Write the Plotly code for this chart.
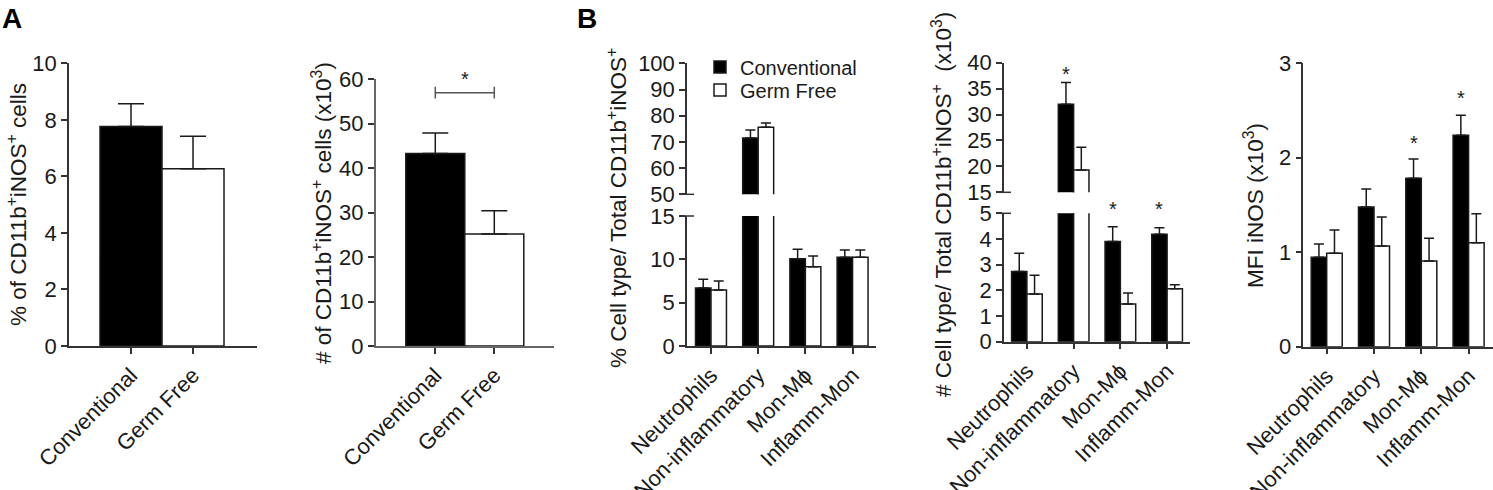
import plotly.graph_objects as go

# ---- data ----
groups = ["Conventional", "Germ Free"]
cell_types = ["Neutrophils", "Non-inflammatory", "Mon-Mϕ", "Inflamm-Mon"]

# A: % of CD11b+iNOS+ cells
pct_total = [7.76, 6.27]
pct_total_sem = [0.81, 1.15]
# A: # of CD11b+iNOS+ cells (x10^3)
num_total = [43.3, 25.2]
num_total_sem = [4.6, 5.2]
num_bracket_y = 57.0
num_star_y = 60.0

# B: % cell type / total CD11b+iNOS+
pct_conv = [6.69, 71.5, 10.08, 10.23]
pct_conv_sem = [1.0, 3.0, 1.07, 0.85]
pct_gf = [6.46, 75.6, 9.15, 10.23]
pct_gf_sem = [1.04, 1.6, 1.23, 0.85]

# B: # cell type / total CD11b+iNOS+ (x10^3)
cnt_conv = [2.73, 32.0, 3.9, 4.18]
cnt_conv_sem = [0.71, 4.2, 0.58, 0.26]
cnt_gf = [1.86, 19.3, 1.47, 2.06]
cnt_gf_sem = [0.73, 4.4, 0.43, 0.16]
# star heights: (value, axis) - sit just outside the broken-axis segments
cnt_stars = [None, (40.4, "yaxis6"), (5.17, "yaxis5"), (5.17, "yaxis5")]

# B: MFI iNOS (x10^3)
mfi_conv = [0.947, 1.479, 1.783, 2.238]
mfi_conv_sem = [0.14, 0.19, 0.204, 0.212]
mfi_gf = [0.989, 1.066, 0.907, 1.101]
mfi_gf_sem = [0.247, 0.307, 0.241, 0.307]
mfi_stars = [None, None, 2.16, 2.63]

W, H = 1493, 490
FONT = "Liberation Sans, Arial, sans-serif"
INK = "#1a1a1a"
AX = "#333333"
BW = 0.328  # bar width in category units for grouped panels
TICK = 22


def px_x(p):
    return p / W


def px_y(p):
    return 1 - p / H


def err(sems, width):
    return dict(type="data", symmetric=False, array=sems, arrayminus=[0] * len(sems),
                color=INK, thickness=1.5, width=width)


def bar(x, y, sem, color, xa, ya, name=None, offset=None, width=1.0, cap=5, legend=None):
    return go.Bar(x=x, y=y, marker=dict(color=color, line=dict(color=INK, width=1.5)),
                  error_y=err(sem, cap), xaxis=xa, yaxis=ya, width=width,
                  offset=offset, name=name, showlegend=legend is not None,
                  legend=legend or "legend", hoverinfo="skip")


fig = go.Figure()
idx2 = list(range(2))
idx4 = list(range(4))

# A1
fig.add_trace(bar(idx2, pct_total, pct_total_sem, ["black", "white"], "x", "y", offset=-0.5, cap=13))
# A2
fig.add_trace(bar(idx2, num_total, num_total_sem, ["black", "white"], "x2", "y2", offset=-0.5, cap=13))

# B panels: (lower, upper) axis pairs; the upper half repeats the bars for the broken axis
for conv, csem, gf, gsem, axes in [
    (pct_conv, pct_conv_sem, pct_gf, pct_gf_sem, [("x3", "y3"), ("x4", "y4")]),
    (cnt_conv, cnt_conv_sem, cnt_gf, cnt_gf_sem, [("x5", "y5"), ("x6", "y6")]),
    (mfi_conv, mfi_conv_sem, mfi_gf, mfi_gf_sem, [("x7", "y7")]),
]:
    for xa, ya in axes:
        first = xa == "x3"
        fig.add_trace(bar(idx4, conv, csem, "black", xa, ya, name=groups[0],
                          offset=-BW, width=BW, legend="legend" if first else None))
        fig.add_trace(bar(idx4, gf, gsem, "white", xa, ya, name=groups[1],
                          offset=0, width=BW, legend="legend2" if first else None))

axis_common = dict(showgrid=False, zeroline=False, showline=True, linecolor=AX, linewidth=1.5,
                   ticks="outside", ticklen=6, tickwidth=1.5, tickcolor=AX, automargin=False,
                   tickfont=dict(family=FONT, size=TICK, color=INK))

# x domains (px) and ranges
xdefs = {
    "xaxis": ((69, 257), (-1.0, 2.032), groups),
    "xaxis2": ((375.7, 554.3), (-1.01, 2.017), groups),
    "xaxis3": ((687, 875.7), (-0.508, 3.49), cell_types),
    "xaxis4": ((687, 875.7), (-0.508, 3.49), None),
    "xaxis5": ((1004, 1190), (-0.49, 3.49), cell_types),
    "xaxis6": ((1004, 1190), (-0.49, 3.49), None),
    "xaxis7": ((1303.3, 1493), (-0.495, 3.516), cell_types),
}
ydefs = {
    "yaxis": ((346, 63.3), (0, 10), 2),
    "yaxis2": ((346, 79.3), (0, 60), 10),
    "yaxis3": ((346, 216), (0, 15), 5),
    "yaxis4": ((194.3, 63.3), (50, 100), 10),
    "yaxis5": ((341.7, 213.3), (0, 5), 1),
    "yaxis6": ((192.3, 62.7), (15, 40), 5),
    "yaxis7": ((346.7, 63.3), (0, 3), 1),
}


def y_to_paper(axis_key, val):
    # map a value on one of the y axes to paper coords (annotations outside the
    # axis range would otherwise be hidden by plotly)
    (b, t), (r0, r1), _ = ydefs[axis_key]
    return px_y(b) + (val - r0) / (r1 - r0) * (px_y(t) - px_y(b))


layout_axes = {}
for i, (k, (dom, rng, labels)) in enumerate(xdefs.items()):
    n = "" if i == 0 else str(i + 1)
    if labels is None:
        layout_axes[k] = dict(domain=[px_x(dom[0]), px_x(dom[1])], range=list(rng),
                              visible=False, automargin=False, anchor="y" + n)
    else:
        layout_axes[k] = dict(axis_common, domain=[px_x(dom[0]), px_x(dom[1])], range=list(rng),
                              tickvals=list(range(len(labels))), ticktext=labels,
                              tickangle=-45, anchor="y" + n)
for i, (k, (dom, rng, dt)) in enumerate(ydefs.items()):
    n = "" if i == 0 else str(i + 1)
    layout_axes[k] = dict(axis_common, domain=[px_y(dom[0]), px_y(dom[1])], range=list(rng),
                          dtick=dt, tick0=rng[0], anchor="x" + n)
layout_axes["xaxis2"]["linecolor"] = "#666666"
layout_axes["yaxis2"]["linecolor"] = "#666666"

# break markers on the broken y axes
shapes = []
for ax_px, y_px in [(687, 194.3), (687, 216), (1004, 192.3), (1004, 213.3)]:
    shapes.append(dict(type="line", xref="paper", yref="paper",
                       x0=px_x(ax_px - 6), x1=px_x(ax_px + 7), y0=px_y(y_px), y1=px_y(y_px),
                       line=dict(color=AX, width=1.5)))

# significance bracket in A2
shapes.append(dict(type="line", xref="x2", yref="y2", x0=0, x1=1, y0=num_bracket_y, y1=num_bracket_y,
                   line=dict(color="#555555", width=1.5)))
for xb in (0, 1):
    shapes.append(dict(type="line", xref="x2", yref="y2", x0=xb, x1=xb,
                       y0=num_bracket_y - 1.3, y1=num_bracket_y + 1.3,
                       line=dict(color="#555555", width=1.5)))

star_font = dict(family=FONT, size=20, color=INK)
ann = [dict(text="*", x=0.5, y=num_star_y, xref="x2", yref="y2", showarrow=False, font=star_font)]
for i, s in enumerate(cnt_stars):
    if s is not None:
        ann.append(dict(text="*", x=i - BW / 2, y=y_to_paper(s[1], s[0]), xref="x5", yref="paper",
                        showarrow=False, font=star_font))
for i, s in enumerate(mfi_stars):
    if s is not None:
        ann.append(dict(text="*", x=i - BW / 2, y=s, xref="x7", yref="y7",
                        showarrow=False, font=star_font))

# y-axis titles
titles = [
    ("% of CD11b<sup>+</sup>iNOS<sup>+</sup> cells", 17, 205),
    ("# of CD11b<sup>+</sup>iNOS<sup>+</sup> cells (x10<sup>3</sup>)", 322, 213),
    ("% Cell type/ Total CD11b<sup>+</sup>iNOS<sup>+</sup>", 617, 208),
    ("# Cell type/ Total CD11b<sup>+</sup>iNOS<sup>+</sup>  (x10<sup>3</sup>)", 942, 205),
    ("MFI iNOS (x10<sup>3</sup>)", 1254, 206),
]
for txt, cx, cy in titles:
    ann.append(dict(text=txt, x=px_x(cx), y=px_y(cy), xref="paper", yref="paper", textangle=-90,
                    showarrow=False, xanchor="center", yanchor="middle",
                    font=dict(family=FONT, size=22.5, color=INK)))

# panel letters
for letter, lx in [("A", 0), ("B", 575)]:
    ann.append(dict(text="<b>%s</b>" % letter, x=px_x(lx), y=px_y(1), xref="paper", yref="paper",
                    xanchor="left", yanchor="top", showarrow=False,
                    font=dict(family=FONT, size=28, color="black")))

legend_style = dict(xanchor="left", yanchor="middle", bgcolor="rgba(0,0,0,0)",
                    font=dict(family=FONT, size=20, color=INK), itemwidth=30)

fig.update_layout(
    template="none",
    width=W, height=H, margin=dict(l=0, r=0, t=0, b=0, autoexpand=False),
    paper_bgcolor="white", plot_bgcolor="white", barmode="overlay",
    font=dict(family=FONT, size=20, color=INK),
    legend=dict(legend_style, x=px_x(700), y=px_y(67)),
    legend2=dict(legend_style, x=px_x(700), y=px_y(90)),
    shapes=shapes, annotations=ann,
    **layout_axes,
)

# page body has a default 8px margin; drop it so the figure sits at the window origin
fig.write_html("out.html", config={"displayModeBar": False},
               post_script="document.body.style.margin='0';")
